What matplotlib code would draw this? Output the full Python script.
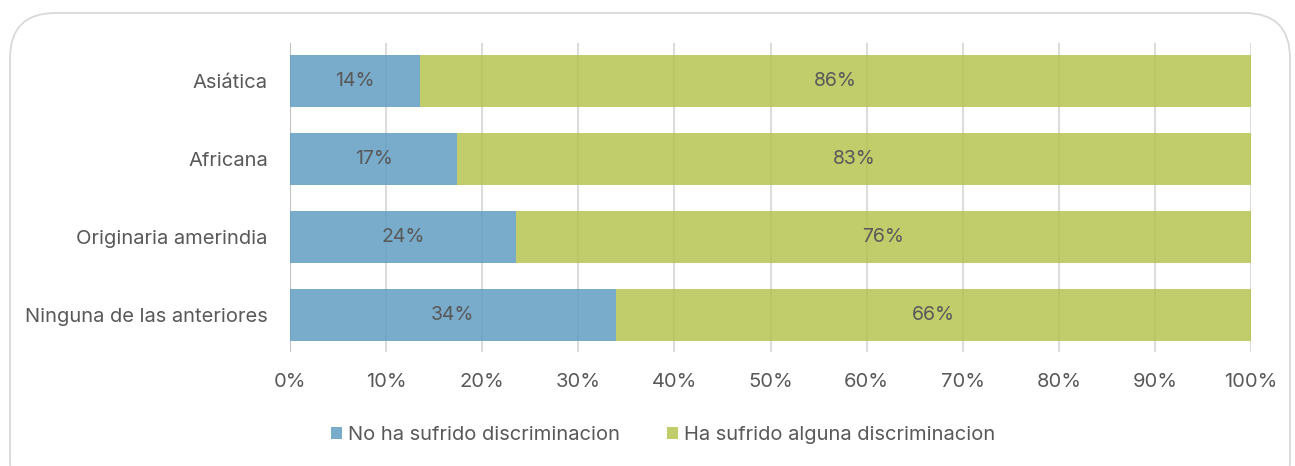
import matplotlib
matplotlib.use("Agg")
import matplotlib.pyplot as plt
from matplotlib.patches import FancyBboxPatch
import numpy as np

categories = ["Asiática", "Africana", "Originaria amerindia", "Ninguna de las anteriores"]
no_discrim = [13.5, 17.4, 23.5, 33.9]
si_discrim = [86.5, 82.6, 76.5, 66.1]
series_names = ["No ha sufrido discriminacion", "Ha sufrido alguna discriminacion"]
xticks = list(range(0, 101, 10))

BLUE = "#629dc2"
GREEN = "#b6c350"
TXT = "#595959"

plt.rcParams['font.family'] = ['Inter', 'DejaVu Sans']
FW = 'normal'
FS = 14.5

W, H = 1295, 466
fig = plt.figure(figsize=(W / 100, H / 100), dpi=100)

# rounded card border
card = FancyBboxPatch((10 / W, -40 / H), (1280) / W, (H - 13 + 40) / H,
                      boxstyle="round,pad=0,rounding_size=0.035",
                      transform=fig.transFigure, facecolor="none",
                      edgecolor="#d9d9d9", linewidth=1.3, zorder=-5,
                      mutation_aspect=W / H)
fig.patches.append(card)

ax = fig.add_axes([290 / W, 1 - 352 / H, (1251 - 290) / W, (352 - 43) / H])
ax.set_facecolor("none")

y = np.arange(len(categories))[::-1]
h = 0.667
ax.barh(y, no_discrim, height=h, color=BLUE, alpha=0.85, zorder=2, label=series_names[0])
ax.barh(y, si_discrim, left=no_discrim, height=h, color=GREEN, alpha=0.85, zorder=2, label=series_names[1])

for yi, a, b in zip(y, no_discrim, si_discrim):
    ax.text(a / 2, yi, f"{round(a):d}%", ha="center", va="center", fontsize=FS - 0.5, color=TXT, zorder=4, fontweight=FW)
    ax.text(a + b / 2, yi, f"{round(b):d}%", ha="center", va="center", fontsize=FS - 0.5, color=TXT, zorder=4, fontweight=FW)

ax.set_xlim(0, 100)
ax.set_ylim(-0.48, 3.49)
ax.set_xticks(xticks)
ax.set_xticklabels([f"{t}%" for t in xticks], fontweight=FW)
ax.set_yticks(y)
ax.set_yticklabels(categories, fontweight=FW)
ax.tick_params(axis="x", length=0, pad=15, labelsize=FS, labelcolor=TXT)
ax.tick_params(axis="y", length=0, pad=16, labelsize=FS, labelcolor=TXT)
for s in ax.spines.values():
    s.set_visible(False)

for t in xticks:
    ax.axvline(t, color="#bfbfbf" if t == 0 else "#dcdcdc", linewidth=1.5, zorder=1)

handles, labels = ax.get_legend_handles_labels()
leg = fig.legend(handles, labels, loc="center", bbox_to_anchor=(663 / W, 1 - 435 / H),
                 ncol=2, frameon=False, handlelength=0.55, handleheight=0.55,
                 handletextpad=0.3, columnspacing=2.3, labelcolor=TXT,
                 prop={'weight': FW, 'size': FS})

fig.savefig("out.png", dpi=100)
